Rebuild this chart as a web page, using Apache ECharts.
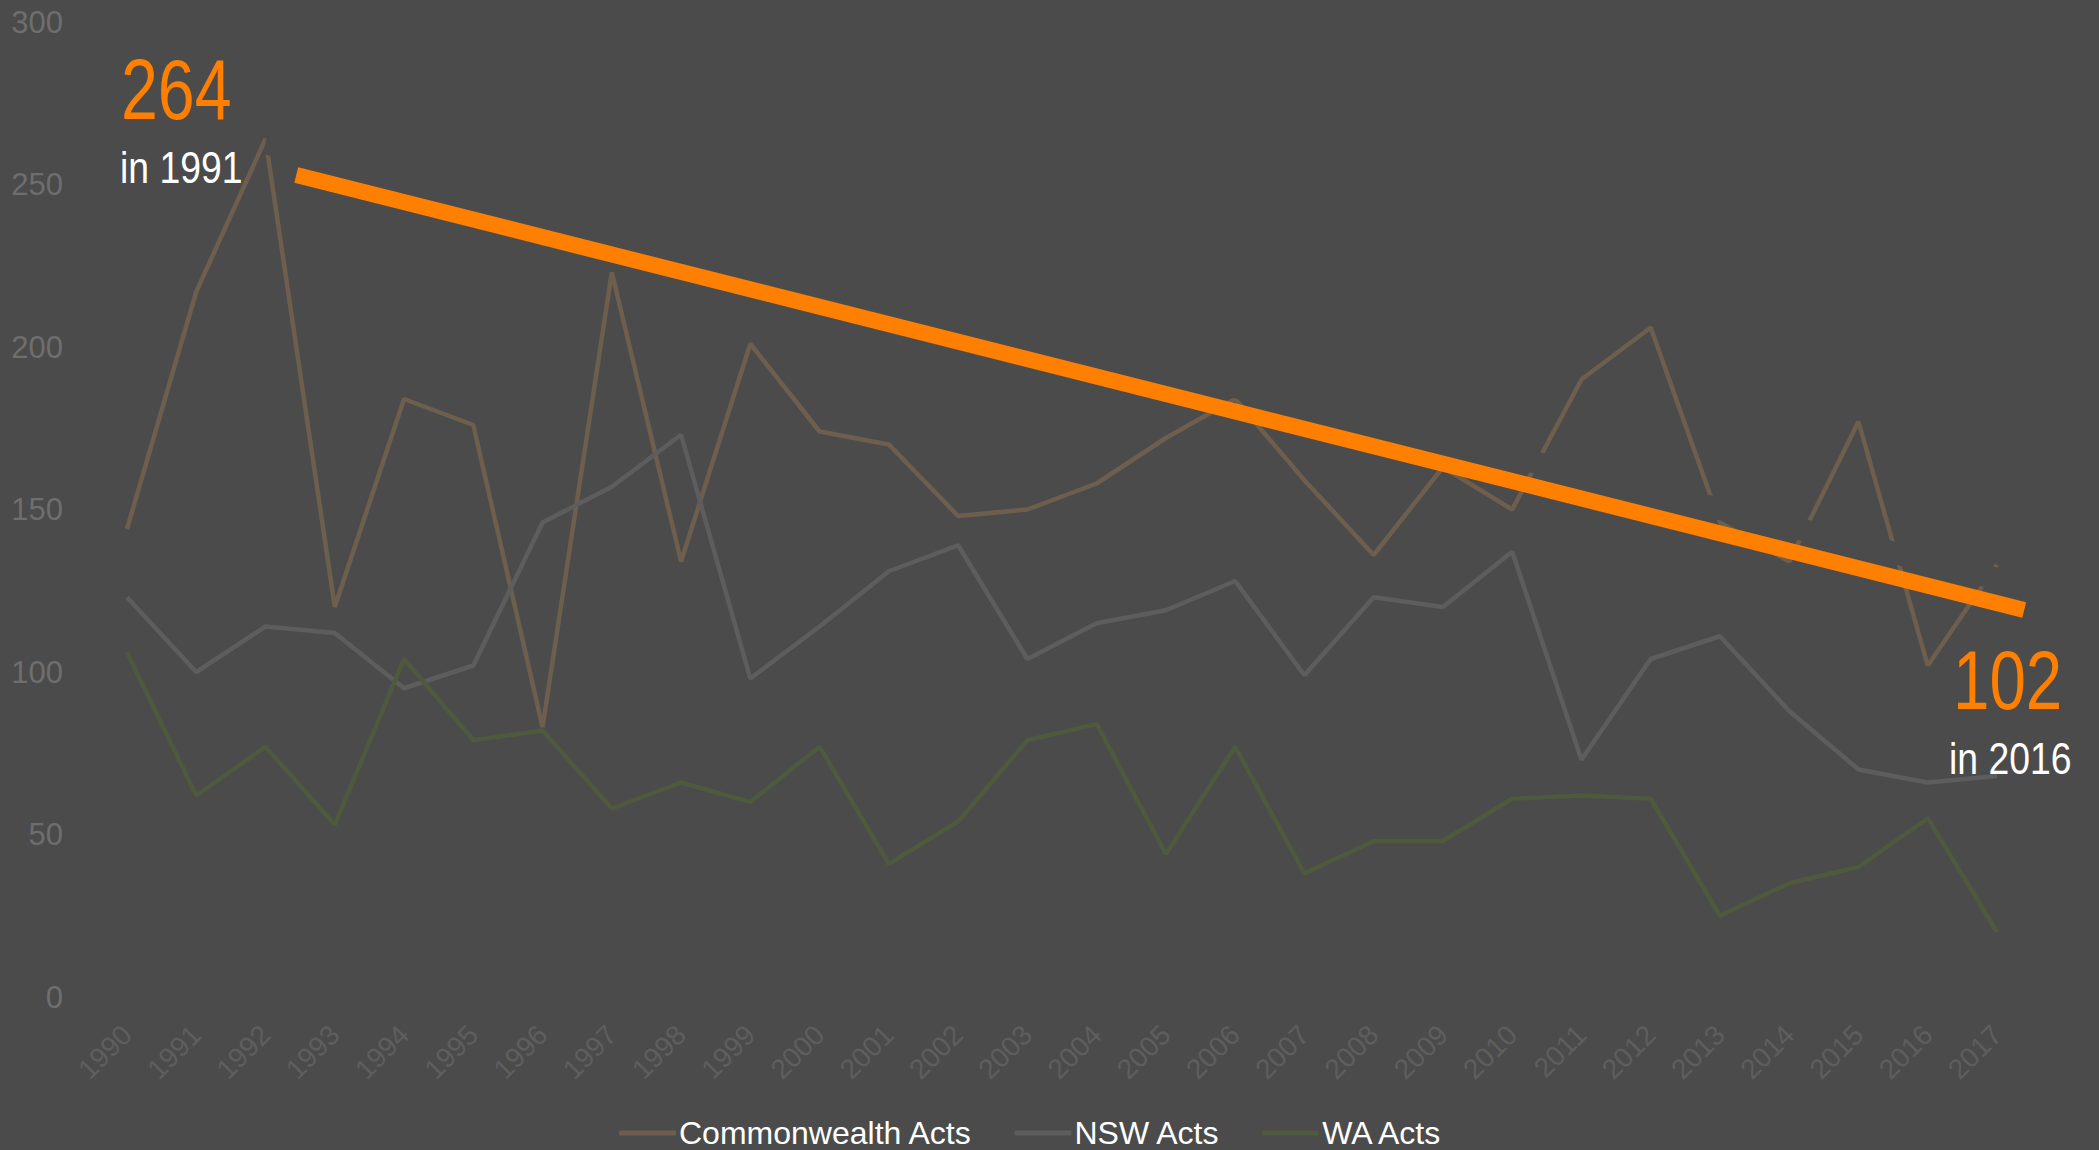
<!DOCTYPE html>
<html>
<head>
<meta charset="utf-8">
<title>Acts passed per year</title>
<script src="https://cdn.jsdelivr.net/npm/echarts/dist/echarts.min.js"></script>
<style>
  html, body { margin: 0; padding: 0; background: #4b4b4b; }
  #chart { width: 2099px; height: 1150px; }
</style>
</head>
<body>
<div id="chart"></div>
<script>
// years on the x axis
let years = ['1990', '1991', '1992', '1993', '1994', '1995', '1996', '1997', '1998', '1999',
    '2000', '2001', '2002', '2003', '2004', '2005', '2006', '2007', '2008', '2009',
    '2010', '2011', '2012', '2013', '2014', '2015', '2016', '2017'];

// acts per year
let commonwealthActs = [144, 217, 264, 120, 184, 176, 83, 223, 134, 201, 174, 170, 148, 150,
    158, 172, 184, 159, 136, 163, 150, 190, 206, 146, 134, 177, 102, 133];
let nswActs = [123, 100, 114, 112, 95, 102, 146, 157, 173, 98, 114, 131, 139, 104,
    115, 119, 128, 99, 123, 120, 137, 73, 104, 111, 88, 70, 66, 68];
let waActs = [106, 62, 77, 53, 104, 79, 82, 58, 66, 60, 77, 41, 54, 79,
    84, 44, 77, 38, 48, 48, 61, 62, 61, 25, 35, 40, 55, 20];

// trend line ends (x as year index, 0 = 1990)
let trendX = [2.444, 27.396];
let trendY = [252.9, 119.1];

let yTicks = [0, 50, 100, 150, 200, 250, 300];

let bg = '#4b4b4b';
let trendAt = (x) => trendY[0] + (x - trendX[0]) * (trendY[1] - trendY[0]) / (trendX[1] - trendX[0]);

let myChart = echarts.init(document.getElementById('chart'), null, {renderer: 'svg'});

let labelFont = 'Liberation Sans, Arial, sans-serif';
let noteFont = (size) => size + 'px "Liberation Sans", Arial, sans-serif';

let option = {
    backgroundColor: bg,
    animation: false,
    grid: [{
        left: 127,
        right: 102,
        top: 22,
        bottom: 153
    }, {
        // same scale, one year wider, so the trend line can run past 2017
        left: 127,
        right: 33,
        top: 22,
        bottom: 153
    }],
    legend: {
        data: ['Commonwealth Acts', 'NSW Acts', 'WA Acts'],
        left: 614,
        top: 1112,
        icon: 'roundRect',
        itemWidth: 57,
        itemHeight: 5,
        itemGap: 42,
        textStyle: {
            color: '#ffffff',
            fontSize: 32,
            fontFamily: labelFont,
            padding: [0, 0, 0, -2]
        }
    },
    xAxis: [{
        type: 'category',
        gridIndex: 0,
        data: years,
        boundaryGap: false,
        axisLine: {show: false},
        axisTick: {show: false},
        splitLine: {show: false},
        axisLabel: {
            rotate: 45,
            interval: 0,
            margin: 33,
            color: '#5e5e5e',
            fontSize: 28,
            fontFamily: labelFont
        }
    }, {
        type: 'value',
        gridIndex: 1,
        min: 0,
        max: years.length,
        show: false
    }],
    yAxis: [{
        type: 'value',
        gridIndex: 0,
        min: yTicks[0],
        max: yTicks[yTicks.length - 1],
        interval: 50,
        splitLine: {show: false},
        axisLine: {show: false},
        axisTick: {show: false},
        axisLabel: {
            margin: 64,
            color: '#6e6e6e',
            fontSize: 31,
            fontFamily: labelFont
        }
    }, {
        type: 'value',
        gridIndex: 1,
        min: yTicks[0],
        max: yTicks[yTicks.length - 1],
        show: false
    }],
    series: [{
        name: 'Commonwealth Acts',
        type: 'line',
        data: commonwealthActs,
        symbol: 'none',
        color: '#6e5e4d',
        lineStyle: {width: 4.5, color: '#6e5e4d'},
        z: 2
    }, {
        name: 'NSW Acts',
        type: 'line',
        data: nswActs,
        symbol: 'none',
        color: '#5d5d5d',
        lineStyle: {width: 4.5, color: '#5d5d5d'},
        z: 3
    }, {
        name: 'WA Acts',
        type: 'line',
        data: waActs,
        symbol: 'none',
        color: '#4e593d',
        lineStyle: {width: 4.5, color: '#4e593d'},
        z: 4
    }, {
        // background coloured band just above the trend line (hides bits of the lines)
        name: 'mask',
        type: 'line',
        xAxisIndex: 1,
        yAxisIndex: 1,
        data: [[2.0, trendAt(2.0) + 7.5], [trendX[1], trendAt(trendX[1]) + 7.5]],
        symbol: 'none',
        clip: false,
        silent: true,
        lineStyle: {width: 22, color: bg, cap: 'butt'},
        z: 5
    }, {
        name: 'trend',
        type: 'line',
        xAxisIndex: 1,
        yAxisIndex: 1,
        data: [[trendX[0], trendY[0]], [trendX[1], trendY[1]]],
        symbol: 'none',
        clip: false,
        silent: true,
        lineStyle: {width: 16, color: '#ff8000', cap: 'butt'},
        z: 6
    }],
    graphic: [{
        type: 'text',
        x: 121,
        y: 89,
        scaleX: 0.78,
        z: 100,
        style: {
            text: '264',
            fill: '#ff8000',
            font: noteFont(85),
            verticalAlign: 'middle'
        }
    }, {
        type: 'text',
        x: 120,
        y: 168,
        scaleX: 0.83,
        z: 100,
        style: {
            text: 'in 1991',
            fill: '#ffffff',
            font: noteFont(45),
            verticalAlign: 'middle'
        }
    }, {
        type: 'text',
        x: 1953,
        y: 680,
        scaleX: 0.78,
        z: 100,
        style: {
            text: '102',
            fill: '#ff8000',
            font: noteFont(84),
            verticalAlign: 'middle'
        }
    }, {
        type: 'text',
        x: 1949,
        y: 759,
        scaleX: 0.83,
        z: 100,
        style: {
            text: 'in 2016',
            fill: '#ffffff',
            font: noteFont(45),
            verticalAlign: 'middle'
        }
    }]
};
myChart.setOption(option);
</script>
</body>
</html>
